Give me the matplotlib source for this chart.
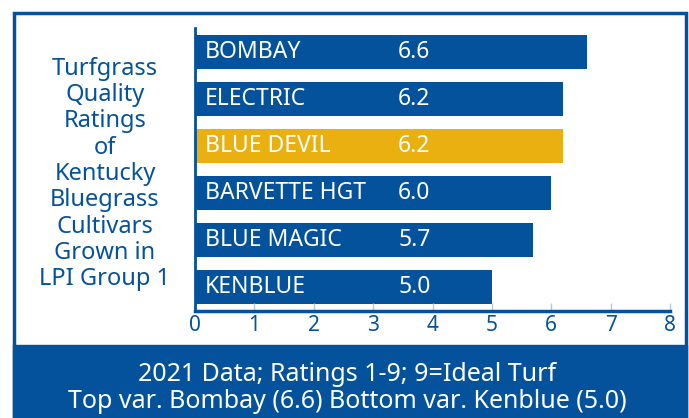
import matplotlib.pyplot as plt
from matplotlib.patches import Rectangle

cultivars = ['BOMBAY', 'ELECTRIC', 'BLUE DEVIL', 'BARVETTE HGT', 'BLUE MAGIC', 'KENBLUE']
ratings = [6.6, 6.2, 6.2, 6.0, 5.7, 5.0]
highlight = 'BLUE DEVIL'
xticks = [0, 1, 2, 3, 4, 5, 6, 7, 8]

title = 'Turfgrass\nQuality\nRatings\nof\nKentucky\nBluegrass\nCultivars\nGrown in\nLPI Group 1'
footer = '2021 Data; Ratings 1-9; 9=Ideal Turf\nTop var. Bombay (6.6) Bottom var. Kenblue (5.0)'

blue = '#03529b'
gold = '#e9b010'
font = 'Noto Sans'

fig = plt.figure(figsize=(6.89, 4.18), dpi=100)

# outer frame and footer banner
fig.patches.append(Rectangle((14/689, 0), 672/689, 1 - 13/418, transform=fig.transFigure,
                             fill=False, edgecolor=blue, linewidth=2.5))
fig.patches.append(Rectangle((13/689, 0), 674/689, 73/418, transform=fig.transFigure,
                             facecolor=blue, edgecolor=blue))

ax = fig.add_axes([195/689, 107/418, 475/689, 283/418])
ypos = list(range(len(cultivars)))
colors = [gold if c == highlight else blue for c in cultivars]
ax.barh(ypos, ratings, height=0.72, color=colors)
for y, name, val in zip(ypos, cultivars, ratings):
    ax.text(0.17, y, name, color='white', fontsize=16.5, family=font, va='center', ha='left')
    ax.text(3.42, y, f'{val:.1f}', color='white', fontsize=16.5, family=font, va='center', ha='left')

ax.set_xlim(0, 8)
ax.set_ylim(5.5, -0.5)
ax.set_xticks(xticks)
ax.set_yticks([])
for s in ['top', 'right']:
    ax.spines[s].set_visible(False)
ax.spines['bottom'].set_color(blue)
ax.spines['bottom'].set_linewidth(2.5)
ax.spines['left'].set_color(blue)
ax.spines['left'].set_linewidth(2)
ax.tick_params(axis='x', direction='in', length=6, color='#b8c8dc', width=1,
               labelcolor=blue, labelsize=15, pad=3)
for lab in ax.get_xticklabels():
    lab.set_family(font)

fig.text(105/689, 1 - 174/418, title, ha='center', va='center', color=blue,
         fontsize=17, family=font, linespacing=1.13)
fig.text(347/689, 30/418, footer, ha='center', va='center', color='white',
         fontsize=18, family=font, linespacing=1.15)

fig.savefig('out.png', dpi=100)
